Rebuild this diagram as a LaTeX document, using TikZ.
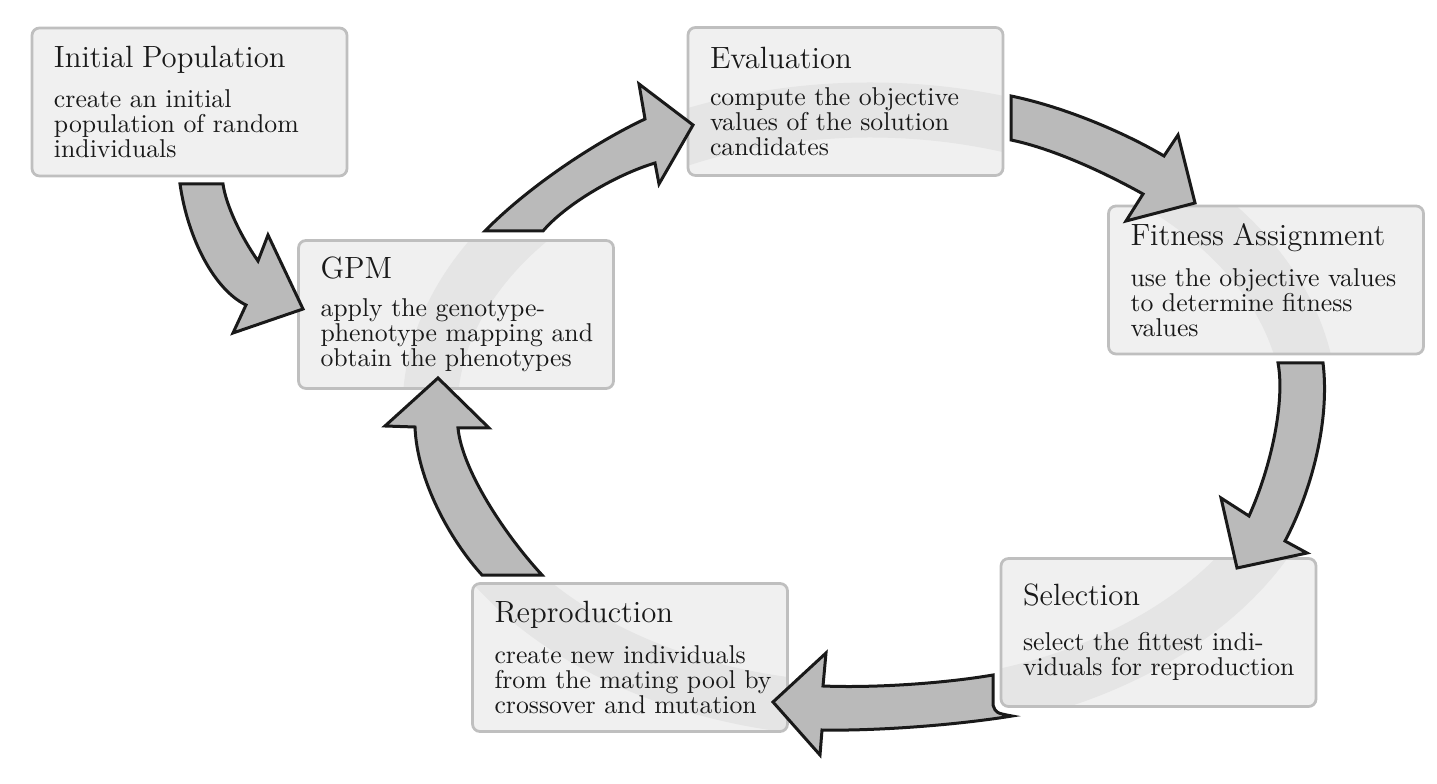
\documentclass[tikz,border=0pt]{standalone}
\usepackage{xcolor}
\usepackage{tikz}
\usetikzlibrary{backgrounds}
\tikzset{
stage/.style={
  rectangle, rounded corners=3pt,
  draw=black!25, line width=1.1pt, outer sep=0pt,
  text width=108.4pt, inner xsep=8.8pt, inner ysep=0pt,
  minimum width=126pt, minimum height=59.2pt,
  align=left, text=black!90,
  font=\fontsize{10.3}{10}\selectfont
},
stagefill/.style={fill=black!6, rounded corners=3pt},
ring/.style={draw=black!10, line width=22pt},
bigarrow/.style={fill=black!27, draw=black!90, line width=1.2pt, line join=miter},
}
\newcommand{\stagetitle}[2][6pt]{{\fontsize{12.3}{14}\selectfont #2}\\[#1]}

\begin{document}
\begin{tikzpicture}[x=0.4pt,y=-0.4pt]
\useasboundingbox (0,0) rectangle (1437,784);

% the stages
\node[stage] (init) at (189.5,102) {\stagetitle{Initial Population}create an initial\\population of random\\individuals};
\node[stage] (eval) at (845.5,101.5) {\stagetitle[5pt]{Evaluation}compute the objective\\values of the solution\\candidates};
\node[stage] (gpm) at (456,314.5) {\stagetitle[5pt]{GPM}apply the genotype-\\\mbox{phenotype mapping and}\\obtain the phenotypes};
\node[stage] (fit) at (1266,280) {\stagetitle[6.4pt]{Fitness Assignment}use the objective values\\to determine fitness\\values};
\node[stage] (sel) at (1158.5,632.5) {\stagetitle[8pt]{Selection}select the fittest indi-\\viduals for reproduction};
\node[stage] (repr) at (630,657.5) {\stagetitle[6.4pt]{Reproduction}create new individuals\\\mbox{from the mating pool by}\\crossover and mutation};

% box fills and the faint ring behind the text
\begin{pgfonlayer}{background}
\foreach \n in {init,eval,gpm,fit,sel,repr}
  \fill[stagefill] (\n.south west) rectangle (\n.north east);
\begin{scope}
\clip[rounded corners=3pt] \foreach \n in {eval,gpm,fit,sel,repr} {(\n.south west) rectangle (\n.north east)};
\draw[ring] (870,410) ellipse [x radius=176pt, y radius=120pt];
\end{scope}
\end{pgfonlayer}

% the arrows
% init -> gpm
\draw[bigarrow] (180,184) -- (223,184) .. controls (226,205) and (240,235) .. (258,261)
  -- (268,235) -- (303,309) -- (233,333) -- (246,305)
  .. controls (215,290) and (188,240) .. (180,184) -- cycle;
% gpm -> eval
\draw[bigarrow] (485,231) .. controls (525,190) and (590,145) .. (645,119)
  -- (639,84) -- (693,125) -- (659,184) -- (655,163)
  .. controls (615,175) and (565,205) .. (543,231) -- cycle;
% eval -> fit
\draw[bigarrow] (1011,96) .. controls (1060,106) and (1120,130) .. (1164,156)
  -- (1178,135) -- (1195,203) -- (1126,221) -- (1143,194)
  .. controls (1100,170) and (1050,148) .. (1011,140) -- cycle;
% fit -> sel
\draw[bigarrow] (1278,363) -- (1323,363) .. controls (1330,420) and (1312,490) .. (1285,541)
  -- (1307,553) -- (1237,568) -- (1221,498) -- (1249,516)
  .. controls (1272,465) and (1285,400) .. (1278,363) -- cycle;
% sel -> repr
\draw[bigarrow] (993,675) -- (993,705) .. controls (996,713) .. (1012,716)
  .. controls (950,726) and (870,731) .. (822,730)
  -- (820,755) -- (773,702) -- (826,653) -- (823,686)
  .. controls (870,688) and (940,684) .. (993,675) -- cycle;
% repr -> gpm
\draw[bigarrow] (482,575) -- (542,575) .. controls (505,535) and (462,470) .. (458,428)
  -- (489,428) -- (438,378) -- (385,426) -- (415,427)
  .. controls (417,480) and (450,540) .. (482,575) -- cycle;
\end{tikzpicture}
\end{document}
